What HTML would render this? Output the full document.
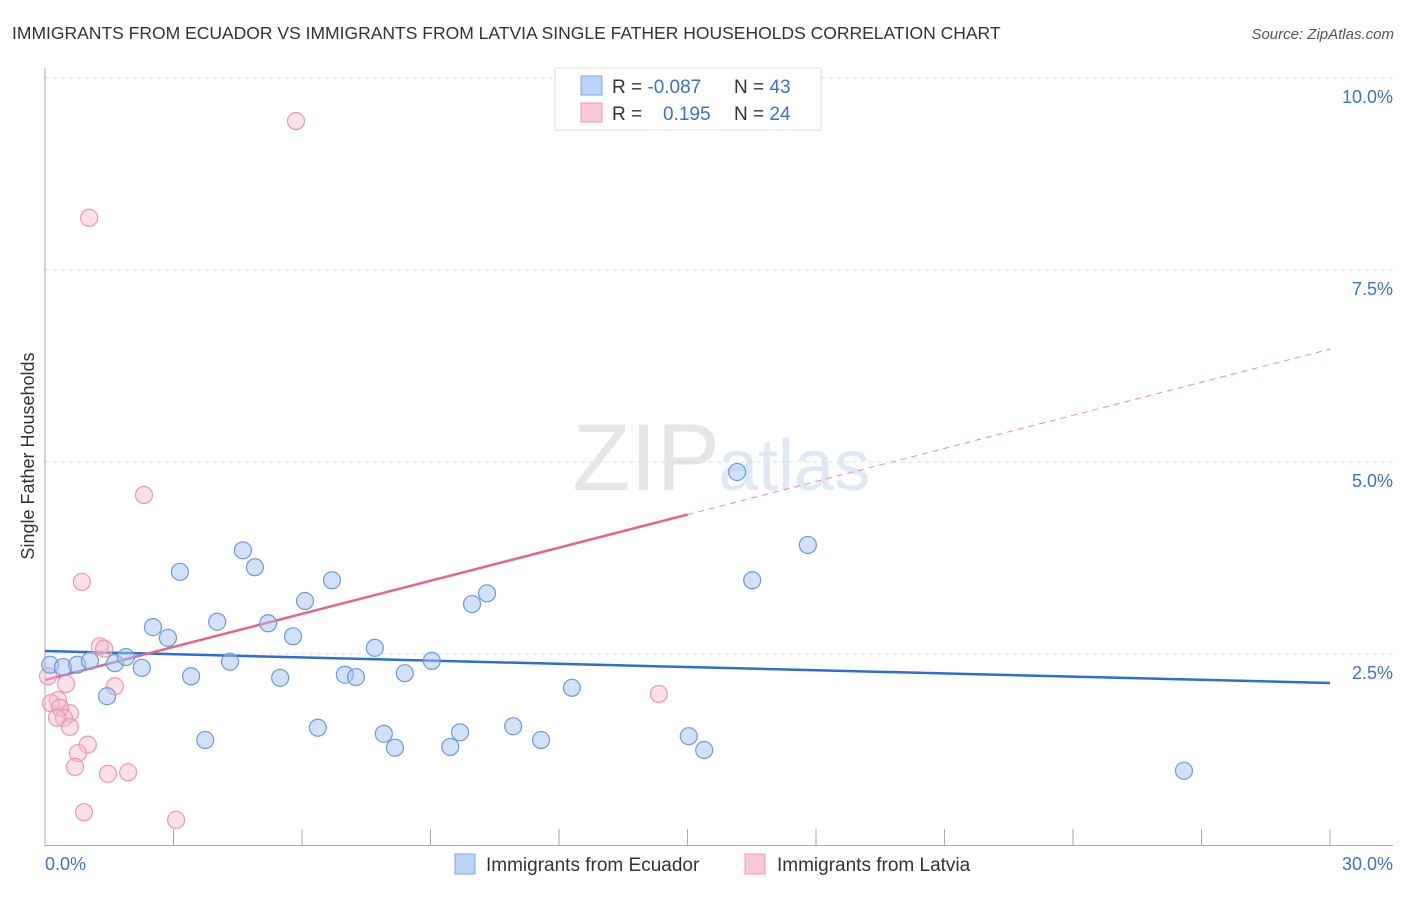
<!DOCTYPE html>
<html><head><meta charset="utf-8"><style>
body{margin:0;background:#fff;font-family:"Liberation Sans",sans-serif;}
svg text{font-family:"Liberation Sans",sans-serif;}
</style></head><body>
<svg id="chart" width="1406" height="892">
<text x="12" y="39" font-size="17.5" fill="#333">IMMIGRANTS FROM ECUADOR VS IMMIGRANTS FROM LATVIA SINGLE FATHER HOUSEHOLDS CORRELATION CHART</text>
<text x="1394" y="39" font-size="15" fill="#555" font-style="italic" text-anchor="end">Source: ZipAtlas.com</text>
<text x="720" y="490" font-size="95" fill="#e6e6e6" text-anchor="end" font-family="Liberation Serif">ZIP</text>
<text x="718" y="490" font-size="72" fill="#dfe8f5">atlas</text>
<text transform="translate(34,456) rotate(-90)" font-size="18" fill="#333" text-anchor="middle">Single Father Households</text>
<g id="grid"></g><g id="axes"></g><g id="trends"></g><g id="pts"></g>
<g>
<rect x="555" y="68" width="266" height="62" fill="#fff" stroke="#ddd"/>
<rect x="581" y="76" width="21" height="19" fill="#b9d2f5" stroke="#7aa7e6"/>
<rect x="581" y="103" width="21" height="19" fill="#fbc8d7" stroke="#ec9bb4"/>
<text x="612" y="93" font-size="19" fill="#333">R = <tspan fill="#3a72d0">-0.087</tspan></text>
<text x="734" y="93" font-size="19" fill="#333">N = <tspan fill="#3a72d0">43</tspan></text>
<text x="612" y="120" font-size="19" fill="#333">R = <tspan x="663" fill="#3a72d0">0.195</tspan></text>
<text x="734" y="120" font-size="19" fill="#333">N = <tspan fill="#3a72d0">24</tspan></text>
</g>
<g>
<rect x="455" y="854" width="20" height="20" fill="#b9d2f5" stroke="#7aa7e6"/>
<text x="486" y="871" font-size="19" fill="#333">Immigrants from Ecuador</text>
<rect x="745" y="854" width="20" height="20" fill="#fbc8d7" stroke="#ec9bb4"/>
<text x="777" y="871" font-size="19" fill="#333">Immigrants from Latvia</text>
</g>
</svg>
<script>
const yTicks=[2.5,5,7.5,10];
const yTickLabels=["2.5%","5.0%","7.5%","10.0%"];
const xTicks=[3,6,9,12,15,18,21,24,27,30];
const ecuadorX=[0.12,0.42,0.75,1.05,1.63,1.89,2.26,1.45,2.52,2.87,3.15,3.41,3.74,4.02,4.32,4.62,4.90,5.21,5.49,5.79,6.07,6.37,6.70,7.00,7.26,7.70,7.91,8.17,8.40,9.03,9.46,9.69,9.97,10.32,10.93,11.58,12.30,15.03,15.39,16.16,16.51,17.81,26.59];
const ecuadorY=[2.36,2.33,2.36,2.41,2.38,2.46,2.32,1.95,2.85,2.71,3.57,2.21,1.38,2.92,2.40,3.85,3.63,2.90,2.19,2.73,3.19,1.54,3.46,2.23,2.20,2.58,1.46,1.28,2.25,2.41,1.29,1.48,3.15,3.29,1.56,1.38,2.06,1.43,1.25,4.87,3.46,3.92,0.98];
const latviaX=[5.86,1.03,2.31,0.86,1.28,1.38,0.07,0.49,0.30,0.14,0.58,0.35,0.44,0.28,0.58,1.63,1.00,0.77,0.70,1.47,1.94,0.91,3.06,14.33];
const latviaY=[9.44,8.18,4.57,3.44,2.60,2.57,2.21,2.11,1.90,1.86,1.73,1.80,1.67,1.67,1.55,2.08,1.32,1.21,1.03,0.94,0.96,0.44,0.34,1.98];
const ecuadorTrend=[2.539,2.122];
const latviaTrend=[2.161,6.47];
const latviaSolidEnd=15;
const NS="http://www.w3.org/2000/svg";
const X=v=>45+v/30*1285, Y=v=>846-v/2.5*192;
function mk(tag,attrs,parent){const e=document.createElementNS(NS,tag);for(const k in attrs)e.setAttribute(k,attrs[k]);document.getElementById(parent).appendChild(e);return e;}
yTicks.forEach((t,i)=>{
 const g=mk('line',{x1:45,x2:1393,y1:Y(t),y2:Y(t),stroke:'#ddd','stroke-dasharray':'4,4'},'grid');
 
 
 const l=mk('text',{x:1393,y:Y(t)+25,'font-size':18,fill:'#3a72d0','text-anchor':'end'},'grid');
 l.textContent=yTickLabels[i];
 
 
});
const ax=mk('line',{x1:45,x2:45,y1:68,y2:846,stroke:'#aaa'},'axes');


const bx=mk('line',{x1:45,x2:1393,y1:845.5,y2:845.5,stroke:'#aaa'},'axes');


xTicks.forEach(t=>{
 const k=mk('line',{x1:X(t),x2:X(t),y1:829,y2:846,stroke:'#aaa'},'axes');
 
 
});
const x0=mk('text',{x:45,y:870,'font-size':18,fill:'#3a72d0'},'axes');x0.textContent='0.0%';


const x1=mk('text',{x:1393,y:870,'font-size':18,fill:'#3a72d0','text-anchor':'end'},'axes');x1.textContent='30.0%';


function pts(xs,ys,fill,stroke,name){xs.forEach((x,i)=>{
 const c=mk('circle',{cx:X(x),cy:Y(ys[i]),r:8.5,fill:fill,stroke:stroke,'stroke-width':1.2},'pts');
 
 
});}
pts(latviaX,latviaY,'rgba(248,185,205,0.45)','#eb98b2','latvia-point');
pts(ecuadorX,ecuadorY,'rgba(164,196,240,0.5)','#6a9be0','ecuador-point');
const lv=v=>latviaTrend[0]+(latviaTrend[1]-latviaTrend[0])*v/30;
const t1=mk('line',{x1:X(0),y1:Y(ecuadorTrend[0]),x2:X(30),y2:Y(ecuadorTrend[1]),stroke:'#2a6fd6','stroke-width':2.5},'trends');


const t2=mk('line',{x1:X(0),y1:Y(lv(0)),x2:X(latviaSolidEnd),y2:Y(lv(latviaSolidEnd)),stroke:'#e5648e','stroke-width':2.5},'trends');


const t3=mk('line',{x1:X(latviaSolidEnd),y1:Y(lv(latviaSolidEnd)),x2:X(30),y2:Y(lv(30)),stroke:'#eb8aa8','stroke-width':1,'stroke-dasharray':'6,5'},'trends');


</script>
</body></html>
